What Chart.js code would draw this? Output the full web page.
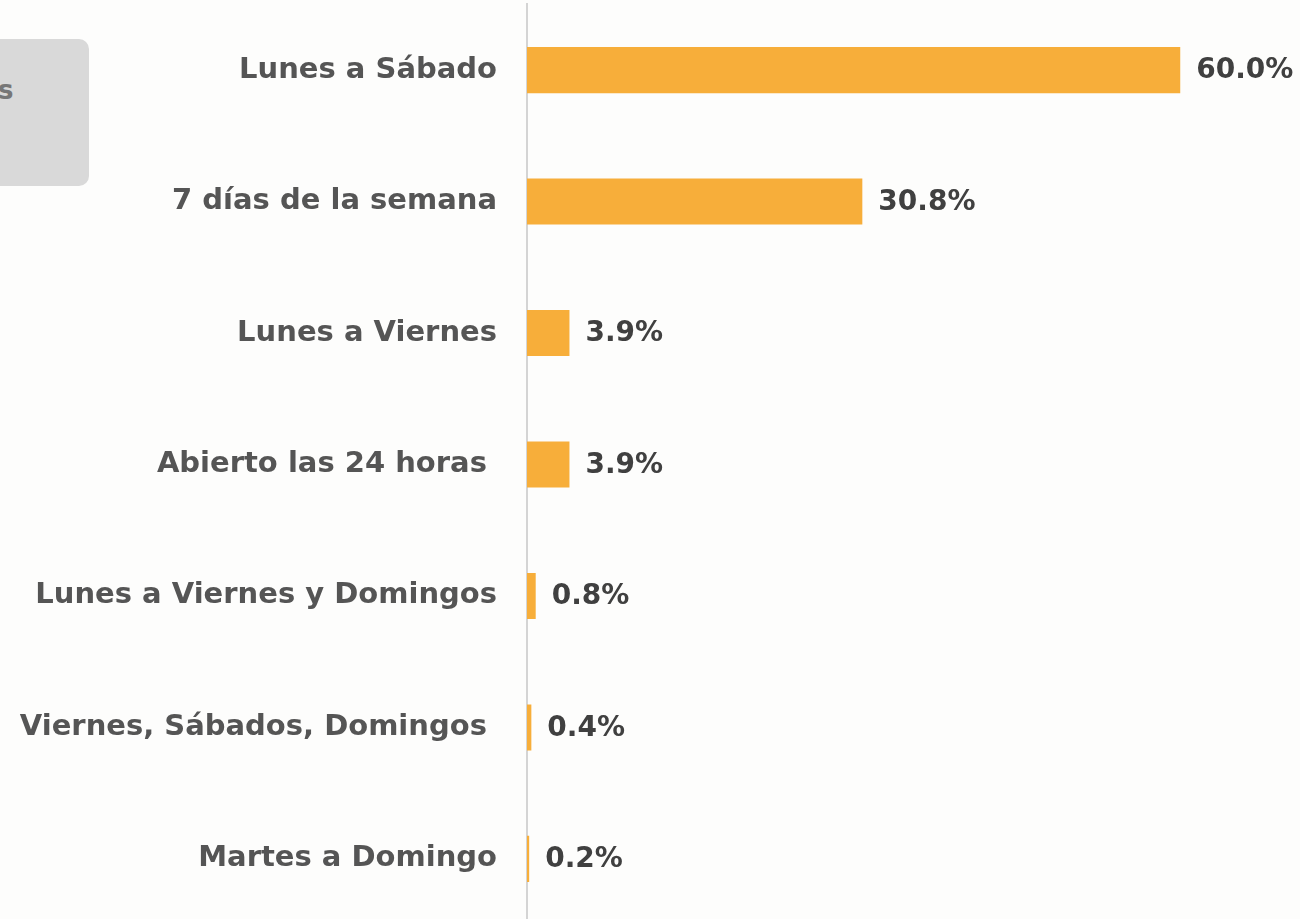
<!DOCTYPE html>
<html lang="es">
<head>
    <meta charset="UTF-8">
    <title>Horarios</title>
    <script src="https://cdn.jsdelivr.net/npm/chart.js"></script>
    <style>
        html, body { margin: 0; padding: 0; background: #fdfdfc; overflow: hidden; }
        #wrap { position: relative; width: 1300px; height: 919px; overflow: hidden; }
        /* y ticks padding also pads top/bottom, so the box is shifted up to put the plot at y=4 */
        #chartBox { position: absolute; left: 0; top: -43px; width: 1300px; height: 1015px; }
        #tag {
            position: absolute; left: -120px; top: 39px; width: 209px; height: 147px;
            background: #d9d9d9; border-radius: 10px;
            font-family: "DejaVu Sans", sans-serif; font-weight: 700; font-size: 26px; color: #777;
        }
        #tag span { position: absolute; left: 118px; top: 36px; }
    </style>
</head>
<body>
<div id="wrap">
    <div id="tag"><span>s</span></div>
    <div id="chartBox"><canvas id="c"></canvas></div>
</div>
<script>
    const categories = [
        'Lunes a Sábado',
        '7 días de la semana',
        'Lunes a Viernes',
        'Abierto las 24 horas ',
        'Lunes a Viernes y Domingos',
        'Viernes, Sábados, Domingos ',
        'Martes a Domingo'
    ];
    const values = [60.0, 30.8, 3.9, 3.9, 0.8, 0.4, 0.2];

    const valueLabels = {
        id: 'valueLabels',
        afterDatasetsDraw(chart) {
            const ctx = chart.ctx;
            const meta = chart.getDatasetMeta(0);
            ctx.save();
            ctx.font = '700 28px "DejaVu Sans", sans-serif';
            ctx.fillStyle = '#404040';
            ctx.textAlign = 'left';
            ctx.textBaseline = 'middle';
            meta.data.forEach((bar, i) => {
                ctx.fillText(values[i].toFixed(1) + '%', bar.x + 16, bar.y + 1);
            });
            ctx.restore();
        }
    };

    new Chart(document.getElementById('c'), {
        type: 'bar',
        data: {
            labels: categories,
            datasets: [{
                data: values,
                backgroundColor: '#f7ae3a',
                barPercentage: 0.7,
                categoryPercentage: 0.5
            }]
        },
        options: {
            indexAxis: 'y',
            responsive: true,
            maintainAspectRatio: false,
            animation: false,
            layout: { padding: 0 },
            plugins: { legend: { display: false }, tooltip: { enabled: false } },
            scales: {
                x: { display: false, min: 0, max: 71 },
                y: {
                    afterFit(scale) { scale.width = 527; },
                    grid: { display: false, drawTicks: false },
                    border: { display: true, color: '#d4d4d4', width: 2 },
                    ticks: {
                        color: '#555555',
                        padding: 30,
                        font: { family: '"DejaVu Sans", sans-serif', size: 29, weight: '700' }
                    }
                }
            }
        },
        plugins: [valueLabels]
    });
</script>
</body>
</html>
